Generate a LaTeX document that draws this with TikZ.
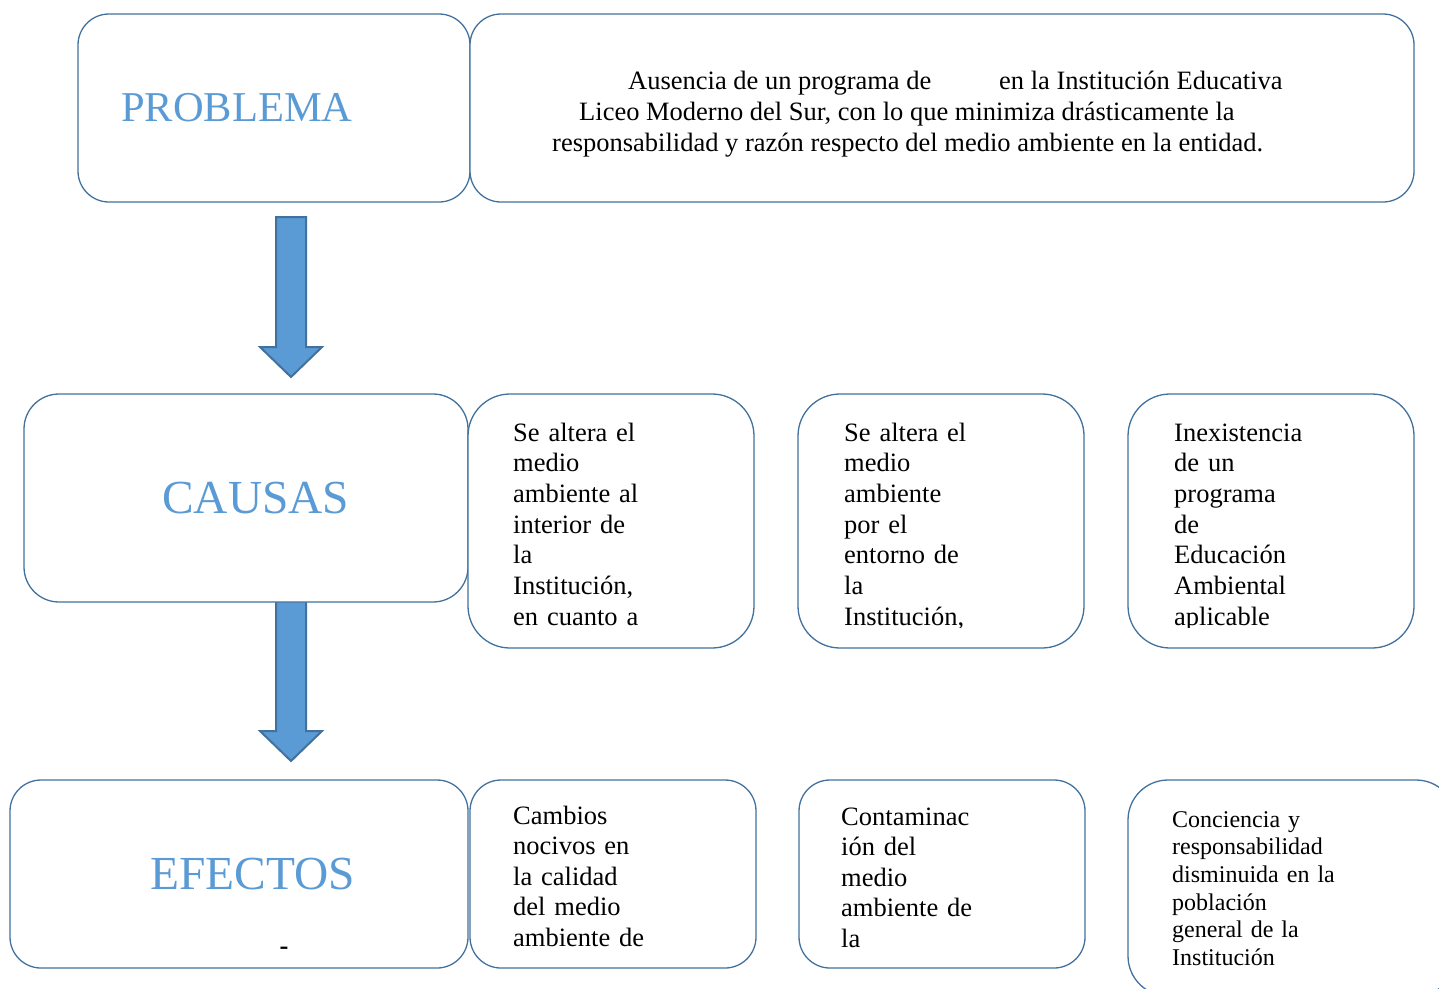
\documentclass[tikz,border=0pt]{standalone}
\usepackage{fontspec}
\setmainfont{Liberation Serif}
\usetikzlibrary{calc}
\definecolor{edgeblue}{HTML}{41719C}
\definecolor{headblue}{HTML}{5B9BD5}
\begin{document}
\begin{tikzpicture}[x=1pt,y=-1pt,
  rbox/.style={draw=edgeblue, line width=1.3pt, fill=white, inner sep=0pt, outer sep=0pt},
  headtxt/.style={anchor=base west, inner sep=0pt, text=headblue},
  bodytxt/.style={anchor=north west, inner sep=0pt, text width=260pt, align=left,
                  font=\fontsize{26.5}{30.7}\selectfont},
  stmttxt/.style={anchor=base west, inner sep=0pt, font=\fontsize{26.5}{30.7}\selectfont},
  blockarrow/.style={fill=headblue, draw=edgeblue, line width=2pt, line join=miter}]
\useasboundingbox (0,0) rectangle (1439,988);
\clip (0,0) rectangle (1439,988);

% block arrows (drawn first, boxes cover their ends)
\coordinate (a1s) at (291,217); \coordinate (a1t) at (291,377);
\coordinate (a2s) at (291,596); \coordinate (a2t) at (291,761);
\draw[blockarrow] ($(a1s)+(-15,0)$) -- ($(a1s)+(15,0)$) -- ($(a1t)+(15,-30)$) -- ($(a1t)+(31,-30)$)
   -- (a1t) -- ($(a1t)+(-31,-30)$) -- ($(a1t)+(-15,-30)$) -- cycle;
\draw[blockarrow] ($(a2s)+(-15,0)$) -- ($(a2s)+(15,0)$) -- ($(a2t)+(15,-30)$) -- ($(a2t)+(31,-30)$)
   -- (a2t) -- ($(a2t)+(-31,-30)$) -- ($(a2t)+(-15,-30)$) -- cycle;

% boxes
\node[rbox, minimum width=392pt, minimum height=188pt, rounded corners=31pt] (prob) at (274,108) {};
\node[rbox, minimum width=944pt, minimum height=188pt, rounded corners=31pt] (stmt) at (942,108) {};
\node[rbox, minimum width=444pt, minimum height=208pt, rounded corners=35pt] (causas) at (246,498) {};
\node[rbox, minimum width=286pt, minimum height=254pt, rounded corners=42pt] (c1) at (611,521) {};
\node[rbox, minimum width=286pt, minimum height=254pt, rounded corners=42pt] (c2) at (941,521) {};
\node[rbox, minimum width=286pt, minimum height=254pt, rounded corners=42pt] (c3) at (1271,521) {};
\node[rbox, minimum width=458pt, minimum height=188pt, rounded corners=31pt] (efectos) at (239,874) {};
\node[rbox, minimum width=286pt, minimum height=188pt, rounded corners=31pt] (e1) at (613,874) {};
\node[rbox, minimum width=286pt, minimum height=188pt, rounded corners=31pt] (e2) at (942,874) {};
\node[rbox, minimum width=328pt, minimum height=216pt, rounded corners=40pt] (e3) at (1292,888) {};

% headings
\node[headtxt, font=\fontsize{42.5}{50}\selectfont] (tprob) at (121,121) {PROBLEMA};
\node[headtxt, font=\fontsize{47.4}{55}\selectfont] (tcausas) at (162,513) {CAUSAS};
\node[headtxt, font=\fontsize{47.4}{55}\selectfont] (tefectos) at (150,889) {EFECTOS};
\node[anchor=base, inner sep=0pt, font=\fontsize{26.5}{30.7}\selectfont\bfseries] (dash) at (284,954) {-};

% problem statement
\node[stmttxt] (s1a) at (628,89) {Ausencia de un programa de};
\node[stmttxt] (s1b) at (999,89) {en la Institución Educativa};
\node[stmttxt] (s2) at (579,120) {Liceo Moderno del Sur, con lo que minimiza drásticamente la};
\node[stmttxt] (s3) at (552,151) {responsabilidad y razón respecto del medio ambiente en la entidad.};

% causes (text clipped at the bottom)
\begin{scope}
\clip (468,400) rectangle (1414,627);
\node[bodytxt] (tc1) at (513,419.5) {\strut Se altera el\\medio\\ambiente al\\interior de\\la\\Institución,\\en cuanto a};
\node[bodytxt] (tc2) at (844,419.5) {\strut Se altera el\\medio\\ambiente\\por el\\entorno de\\la\\Institución,};
\node[bodytxt] (tc3) at (1174,419.5) {\strut Inexistencia\\de un\\programa\\de\\Educación\\Ambiental\\aplicable};
\end{scope}

% effects
\node[bodytxt, font=\fontsize{26.5}{30.5}\selectfont] (te1) at (513,802.5) {\strut Cambios\\nocivos en\\la calidad\\del medio\\ambiente de};
\node[bodytxt, font=\fontsize{26.5}{30.5}\selectfont] (te2) at (841,803.5) {\strut Contaminac\\ión del\\medio\\ambiente de\\la};
\node[bodytxt, font=\fontsize{24}{27.6}\selectfont] (te3) at (1172,807.7) {\strut Conciencia y\\responsabilidad\\disminuida en la\\población\\general de la\\Institución};
\end{tikzpicture}
\end{document}
